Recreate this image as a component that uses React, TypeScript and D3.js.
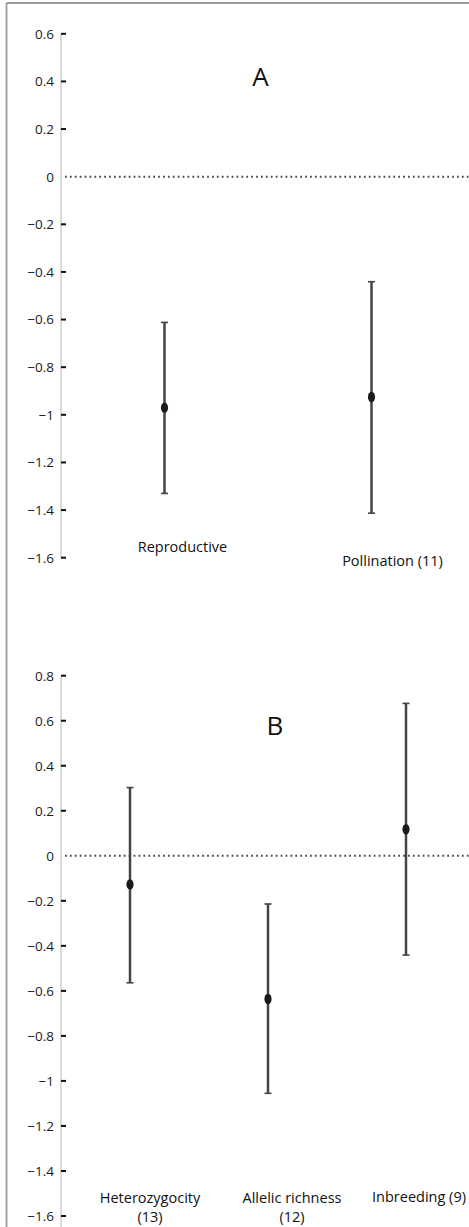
import React from "react";
import * as d3 from "d3";

// Panel A data
const categoriesA = ["Reproductive", "Pollination (11)"];
const meanA = [-0.97, -0.925];
const lowerA = [-1.33, -1.413];
const upperA = [-0.612, -0.441];
const ticksA = [0.6, 0.4, 0.2, 0, -0.2, -0.4, -0.6, -0.8, -1, -1.2, -1.4, -1.6];

// Panel B data
const categoriesB = ["Heterozygocity\n(13)", "Allelic richness\n(12)", "Inbreeding (9)"];
const meanB = [-0.127, -0.636, 0.118];
const lowerB = [-0.564, -1.055, -0.441];
const upperB = [0.303, -0.214, 0.677];
const ticksB = [0.8, 0.6, 0.4, 0.2, 0, -0.2, -0.4, -0.6, -0.8, -1, -1.2, -1.4, -1.6];

const W = 469;
const H = 1227;
const FONT = "'Open Sans', 'DejaVu Sans', sans-serif";

type PanelProps = {
  cats: string[];
  mean: number[];
  lower: number[];
  upper: number[];
  ticks: number[];
  yTop: number;
  yBottom: number;
  letter: string;
  letterPos: [number, number];
  labelDy: number[];
  labelDx: number[];
  axisEnd: number;
};

function Panel(p: PanelProps) {
  const axisX = 61;
  const y = d3
    .scaleLinear()
    .domain([p.ticks[0], p.ticks[p.ticks.length - 1]])
    .range([p.yTop, p.yBottom]);
  const x = d3.scalePoint<string>().domain(p.cats).range([61, 475]).padding(0.5);
  const fmt = (v: number) => (v === 0 ? "0" : d3.format("")(v));
  return (
    <g>
      <line x1={axisX} x2={axisX} y1={y(p.ticks[0])} y2={p.axisEnd} stroke="#cfcfcf" strokeWidth={1.5} />
      {p.ticks.map((t) => (
        <g key={t}>
          {t !== 0 && (
            <line x1={axisX} x2={axisX + 5} y1={y(t)} y2={y(t)} stroke="#111" strokeWidth={2} />
          )}
          <text
            x={axisX - 7}
            y={y(t)}
            dy="0.36em"
            textAnchor="end"
            fontFamily={FONT}
            fontSize={13.5}
            fill="#1a1a1a"
          >
            {fmt(t)}
          </text>
        </g>
      ))}
      <line
        x1={axisX + 4}
        x2={W}
        y1={y(0)}
        y2={y(0)}
        stroke="#4a4a4a"
        strokeWidth={2}
        strokeDasharray="1.8,3.1"
      />
      <text
        x={p.letterPos[0]}
        y={p.letterPos[1]}
        dy="0.36em"
        textAnchor="middle"
        fontFamily={FONT}
        fontSize={26}
        fill="#111"
      >
        {p.letter}
      </text>
      {p.cats.map((c, i) => {
        const cx = x(c) as number;
        return (
          <g key={c}>
            <line x1={cx} x2={cx} y1={y(p.upper[i])} y2={y(p.lower[i])} stroke="#444" strokeWidth={2.5} />
            <line x1={cx - 3.5} x2={cx + 3.5} y1={y(p.upper[i])} y2={y(p.upper[i])} stroke="#444" strokeWidth={1.6} />
            <line x1={cx - 3.5} x2={cx + 3.5} y1={y(p.lower[i])} y2={y(p.lower[i])} stroke="#444" strokeWidth={1.6} />
            <ellipse cx={cx} cy={y(p.mean[i])} rx={3.6} ry={5.2} fill="#1a1a1a" />
            <text
              x={cx + p.labelDx[i]}
              y={p.labelDy[i]}
              textAnchor="middle"
              fontFamily={FONT}
              fontSize={14.5}
              fill="#111"
            >
              {c.split("\n").map((line, k) => (
                <tspan key={k} x={cx + p.labelDx[i]} dy={k === 0 ? 0 : 19}>
                  {line}
                </tspan>
              ))}
            </text>
          </g>
        );
      })}
    </g>
  );
}

export default function App() {
  return (
    <svg
      width={W}
      height={H}
      style={{ position: "absolute", left: 0, top: 0, background: "#fff" }}
    >
      <rect x={0} y={0} width={W} height={H} fill="#fff" />
      <line x1={6.5} x2={W} y1={3} y2={3} stroke="#9a9a9a" strokeWidth={1.8} />
      <line x1={6.5} x2={6.5} y1={3} y2={H} stroke="#9a9a9a" strokeWidth={1.8} />
      <Panel
        cats={categoriesA}
        mean={meanA}
        lower={lowerA}
        upper={upperA}
        ticks={ticksA}
        yTop={33.8}
        yBottom={557.7}
        letter="A"
        letterPos={[260.5, 76.5]}
        labelDy={[552, 566]}
        labelDx={[18, 21]}
        axisEnd={557.7}
      />
      <Panel
        cats={categoriesB}
        mean={meanB}
        lower={lowerB}
        upper={upperB}
        ticks={ticksB}
        yTop={675.7}
        yBottom={1216}
        letter="B"
        letterPos={[275, 726]}
        labelDy={[1203, 1203, 1202]}
        labelDx={[20, 24, 13]}
        axisEnd={H}
      />
    </svg>
  );
}
